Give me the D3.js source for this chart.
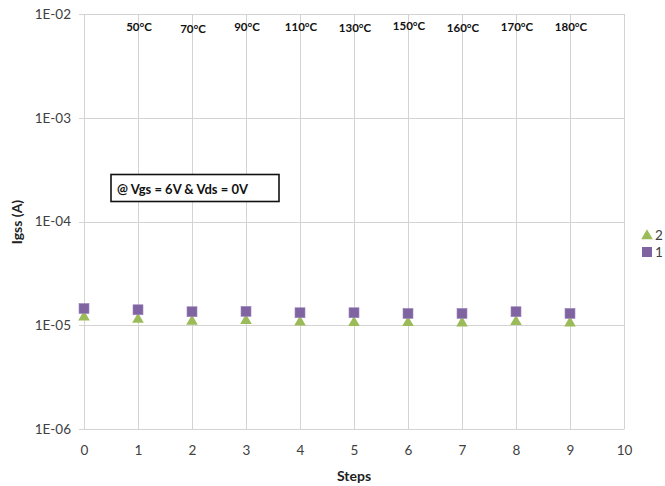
<!DOCTYPE html>
<html><head><meta charset="utf-8">
<script src="https://cdn.jsdelivr.net/npm/d3@7"></script>
<style>body{margin:0;background:#fff}svg{display:block}text{font-family:Lato,"Open Sans",sans-serif}</style>
</head><body>
<svg id="c" width="665" height="486"></svg>
<script>
const steps = [0,1,2,3,4,5,6,7,8,9];
const series1 = [1.45e-5,1.41e-5,1.35e-5,1.36e-5,1.32e-5,1.32e-5,1.30e-5,1.30e-5,1.35e-5,1.30e-5];
const series2 = [1.20e-5,1.14e-5,1.09e-5,1.11e-5,1.07e-5,1.06e-5,1.06e-5,1.05e-5,1.08e-5,1.05e-5];
const tempSteps = [1,2,3,4,5,6,7,8,9];
const tempLabels = ["50°C","70°C","90°C","110°C","130°C","150°C","160°C","170°C","180°C"];
const tempDy = [0,2,0,0,1,-1,1,0,0];
const yTicks = [1e-6,1e-5,1e-4,1e-3,1e-2];
const xTicks = [0,1,2,3,4,5,6,7,8,9,10];
const legendNames = ["2","1"];

const svg = d3.select("#c");
const x = d3.scaleLinear().domain([0,10]).range([84,624]);
const y = d3.scaleLog().domain([1e-6,1e-2]).range([429,14]);
const grid = "#d3d3d3";

// gridlines
svg.append("g").selectAll("line.v").data(xTicks).join("line")
  .attr("x1",d=>x(d)+0.5).attr("x2",d=>x(d)+0.5).attr("y1",y(1e-2)).attr("y2",y(1e-6))
  .attr("stroke",grid).attr("stroke-width",1);
svg.append("g").selectAll("line.h").data(yTicks).join("line")
  .attr("x1",x(0)-5).attr("x2",x(10)+0.5).attr("y1",d=>Math.round(y(d))+0.5).attr("y2",d=>Math.round(y(d))+0.5)
  .attr("stroke",grid).attr("stroke-width",1);

// y axis labels
const fmt = d => "1E-" + String(Math.round(-Math.log10(d))).padStart(2,"0");
const yAxis = d3.axisLeft(y).tickValues(yTicks).tickFormat(fmt).tickSize(0).tickPadding(13);
const gy = svg.append("g").attr("transform",`translate(${x(0)},0)`).call(yAxis);
gy.select(".domain").remove();
gy.selectAll("text").attr("font-size",13.5).attr("fill","#404040").attr("font-family","Lato");

// x axis labels
const xAxis = d3.axisBottom(x).tickValues(xTicks).tickFormat(d3.format("d")).tickSize(0).tickPadding(16);
const gx = svg.append("g").attr("transform",`translate(0,${y(1e-6)})`).call(xAxis);
gx.select(".domain").remove();
gx.selectAll("text").attr("font-size",13.5).attr("fill","#404040").attr("font-family","Lato");

// axis titles
svg.append("text").attr("x",354).attr("y",481).attr("text-anchor","middle")
  .attr("font-size",14).attr("font-weight","bold").attr("fill","#222").text("Steps");
svg.append("text").attr("transform","translate(22,222) rotate(-90)").attr("text-anchor","middle")
  .attr("font-size",14).attr("font-weight","bold").attr("fill","#222").text("Igss (A)");

// temperature labels
svg.append("g").selectAll("text").data(tempSteps).join("text")
  .attr("x",d=>x(d)+1).attr("y",(d,i)=>31+tempDy[i]).attr("text-anchor","middle")
  .attr("font-size",11.5).attr("font-weight","bold").attr("fill","#111").text((d,i)=>tempLabels[i]);

// annotation box
svg.append("rect").attr("x",111).attr("y",174.5).attr("width",168).attr("height",27)
  .attr("fill","#fff").attr("stroke","#111").attr("stroke-width",1.6);
svg.append("text").attr("x",117).attr("y",194).attr("font-size",13).attr("font-weight","bold")
  .attr("fill","#111").text("@ Vgs = 6V & Vds = 0V");

// series 2 triangles
const tri = d3.symbol().type(d3.symbolTriangle).size(58);
svg.append("g").selectAll("path").data(steps).join("path")
  .attr("d",tri).attr("transform",(d,i)=>`translate(${x(d)},${y(series2[i])})`)
  .attr("fill","#9BBB59");
// series 1 squares
svg.append("g").selectAll("rect").data(steps).join("rect")
  .attr("x",d=>x(d)-5).attr("y",(d,i)=>y(series1[i])-5).attr("width",10).attr("height",10)
  .attr("fill","#8064A2").attr("stroke","#9d87bb").attr("stroke-width",0.6);

// legend
const lg = svg.append("g");
lg.append("path").attr("d",tri).attr("transform","translate(647,236)").attr("fill","#9BBB59");
lg.append("rect").attr("x",642).attr("y",247).attr("width",10).attr("height",10).attr("fill","#8064A2");
lg.selectAll("text").data(legendNames).join("text")
  .attr("x",655).attr("y",(d,i)=>240+i*17).attr("font-size",13.5).attr("fill","#404040").text(d=>d);
</script>
</body></html>
